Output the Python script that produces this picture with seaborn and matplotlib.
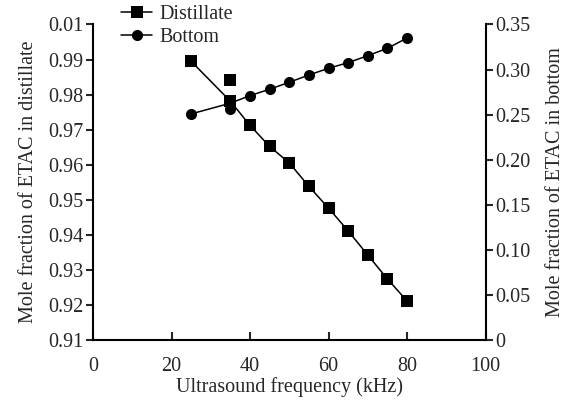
import numpy as np
import pandas as pd
import seaborn as sns
import matplotlib.pyplot as plt
from matplotlib.ticker import FixedLocator, FixedFormatter

# data
freq = [25, 35, 40, 45, 50, 55, 60, 65, 70, 75, 80]
distillate = [0.9895, 0.9781, 0.9712, 0.9652, 0.9605, 0.9538, 0.9476, 0.9411, 0.9342, 0.9274, 0.9211]
bottom = [0.2508, 0.2627, 0.2711, 0.2782, 0.2859, 0.2940, 0.3014, 0.3077, 0.3154, 0.3236, 0.3350]

# the odd extra points at 35 kHz
extra_freq = [35]
extra_distillate = [0.9842]
extra_bottom = [0.2563]

left_ticks = [0.91, 0.92, 0.93, 0.94, 0.95, 0.96, 0.97, 0.98, 0.99, 1.00]
left_labels = ["0.91", "0.92", "0.93", "0.94", "0.95", "0.96", "0.97", "0.98", "0.99", "0.01"]
right_ticks = [0, 0.05, 0.10, 0.15, 0.20, 0.25, 0.30, 0.35]
right_labels = ["0", "0.05", "0.10", "0.15", "0.20", "0.25", "0.30", "0.35"]

df = pd.DataFrame({"freq": freq, "distillate": distillate, "bottom": bottom})

sns.set_style("ticks")
plt.rcParams['font.family'] = ['Liberation Serif', 'DejaVu Serif']

fs_tick = 14.5
fs_label = 14.5

fig = plt.figure(figsize=(5.68, 4.08), dpi=100)
ax = fig.add_axes([0.1637, 0.1667, 0.6913, 0.7733])
ax2 = ax.twinx()

sns.lineplot(x="freq", y="distillate", data=df, ax=ax, color="black", lw=1.1,
             marker="s", markersize=8.5, markeredgewidth=0, label="Distillate")
sns.scatterplot(x=extra_freq, y=extra_distillate, ax=ax, color="black", marker="s",
                s=72, linewidth=0)

sns.lineplot(x="freq", y="bottom", data=df, ax=ax2, color="black", lw=1.1,
             marker="o", markersize=8, markeredgewidth=0, label="Bottom")
sns.scatterplot(x=extra_freq, y=extra_bottom, ax=ax2, color="black", marker="o",
                s=64, linewidth=0)

h1, l1 = ax.get_legend_handles_labels()
h2, l2 = ax2.get_legend_handles_labels()
for a in (ax, ax2):
    if a.get_legend() is not None:
        a.get_legend().remove()

ax.set_xlim(0, 100)
ax.set_ylim(0.91, 1.00)
ax2.set_ylim(0, 0.35)
ax.set_xticks([0, 20, 40, 60, 80, 100])
ax.yaxis.set_major_locator(FixedLocator(left_ticks))
ax.yaxis.set_major_formatter(FixedFormatter(left_labels))
ax2.yaxis.set_major_locator(FixedLocator(right_ticks))
ax2.yaxis.set_major_formatter(FixedFormatter(right_labels))

ax.set_xlabel("Ultrasound frequency (kHz)", fontsize=fs_label, labelpad=1)
ax.set_ylabel("Mole fraction of ETAC in distillate", fontsize=fs_label, labelpad=7)
ax2.set_ylabel("Mole fraction of ETAC in bottom", fontsize=fs_label, labelpad=11)

for a in (ax, ax2):
    a.spines["top"].set_visible(False)
    for s in ("left", "right", "bottom"):
        a.spines[s].set_linewidth(1.5)
        a.spines[s].set_color("black")
ax.spines["right"].set_visible(False)
ax2.spines["left"].set_visible(False)
ax2.spines["bottom"].set_visible(False)

ax.tick_params(axis="x", direction="in", length=6, width=1.5, pad=12, labelsize=fs_tick)
ax.tick_params(axis="y", direction="out", length=5, width=1.5, pad=2, labelsize=fs_tick)
ax2.tick_params(axis="y", direction="out", length=5, width=1.5, pad=2, labelsize=fs_tick)

fig.legend(h1 + h2, l1 + l2, loc="upper left", bbox_to_anchor=(0.213, 0.988),
           frameon=False, fontsize=fs_label, handlelength=1.55, handletextpad=0.35,
           labelspacing=0.2, borderaxespad=0, borderpad=0)

plt.savefig("out.png", dpi=100)
